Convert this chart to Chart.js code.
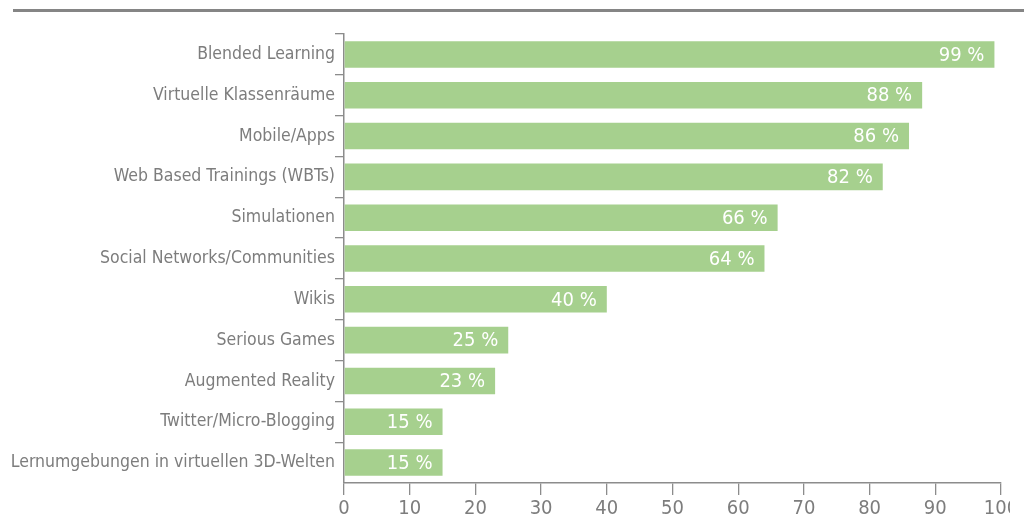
<!DOCTYPE html>
<html>
<head>
<meta charset="utf-8">
<script src="https://cdn.jsdelivr.net/npm/chart.js@4.4.1/dist/chart.umd.min.js"></script>
<style>
    html, body { margin: 0; padding: 0; background: #fff; overflow: hidden; }
    #wrap { position: relative; width: 1010px; height: 518px; overflow: hidden; }
    #topLine { position: absolute; left: 13px; top: 9px; width: 1011px; height: 3px; background: #858585; }
    #box { position: absolute; left: 0; top: 0; width: 1030px; height: 518px; }
</style>
</head>
<body>
<div id="wrap">
    <div id="box"><canvas id="chart"></canvas></div>
</div>
<div id="topLine"></div>
<script>
// Chart data
const categories = [
    'Blended Learning',
    'Virtuelle Klassenräume',
    'Mobile/Apps',
    'Web Based Trainings (WBTs)',
    'Simulationen',
    'Social Networks/Communities',
    'Wikis',
    'Serious Games',
    'Augmented Reality',
    'Twitter/Micro-Blogging',
    'Lernumgebungen in virtuellen 3D-Welten'
];
const values = [99, 88, 86, 82, 66, 64, 40, 25, 23, 15, 15];
const xTicks = [0, 10, 20, 30, 40, 50, 60, 70, 80, 90, 100];

const fontFamily = '"DejaVu Sans Condensed", "DejaVu Sans", sans-serif';
const greyText = '#7d7d7d';
const axisGrey = '#8c8c8c';

// Value labels inside the bar ends
const valueLabels = {
    id: 'valueLabels',
    afterDatasetsDraw(chart) {
        const ctx = chart.ctx;
        const meta = chart.getDatasetMeta(0);
        ctx.save();
        ctx.fillStyle = '#ffffff';
        ctx.font = '20px ' + fontFamily;
        ctx.textAlign = 'right';
        ctx.textBaseline = 'middle';
        meta.data.forEach((bar, i) => {
            ctx.fillText(values[i] + ' %', bar.x - 10, bar.y + 1);
        });
        ctx.restore();
    }
};

new Chart(document.getElementById('chart'), {
    type: 'bar',
    data: {
        labels: categories,
        datasets: [{
            data: values,
            backgroundColor: '#a6d08e',
            borderWidth: 0,
            categoryPercentage: 1,
            barPercentage: 0.65
        }]
    },
    options: {
        indexAxis: 'y',
        responsive: true,
        maintainAspectRatio: false,
        animation: false,
        layout: {
            padding: { left: 0, right: 29, top: 34, bottom: 0 }
        },
        scales: {
            y: {
                offset: true,
                grid: {
                    offset: true,
                    drawOnChartArea: false,
                    drawTicks: true,
                    tickLength: 9,
                    // no tick at the bottom corner
                    color: c => c.index === undefined ? 'rgba(0,0,0,0)' : axisGrey,
                    lineWidth: 1.3
                },
                border: { color: axisGrey, width: 1.5 },
                ticks: {
                    color: greyText,
                    padding: 0,
                    font: { family: fontFamily, size: 17.5 }
                },
                afterFit(scale) {
                    scale.width = 344;
                }
            },
            x: {
                min: 0,
                max: 100,
                afterBuildTicks(scale) {
                    scale.ticks = xTicks.map(v => ({ value: v }));
                },
                grid: {
                    drawOnChartArea: false,
                    drawTicks: true,
                    tickLength: 12,
                    color: axisGrey,
                    lineWidth: 1.3
                },
                border: { color: axisGrey, width: 1.5 },
                ticks: {
                    color: greyText,
                    padding: 2,
                    maxRotation: 0,
                    font: { family: fontFamily, size: 20 }
                },
                afterFit(scale) {
                    scale.height = 35;
                }
            }
        },
        plugins: {
            legend: { display: false },
            tooltip: { enabled: false }
        }
    },
    plugins: [valueLabels]
});
</script>
</body>
</html>
